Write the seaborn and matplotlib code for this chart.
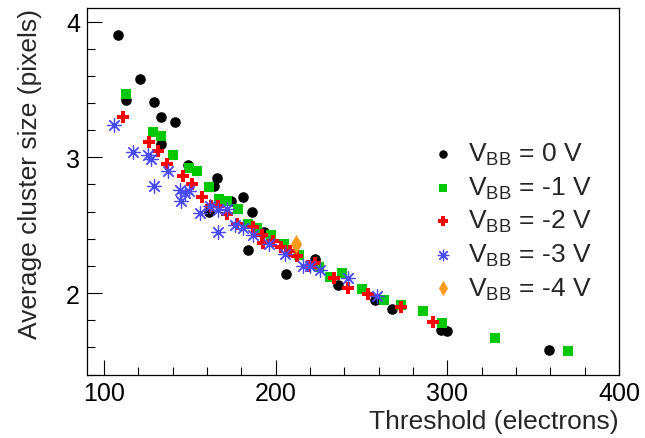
import seaborn as sns
import pandas as pd
import matplotlib.pyplot as plt
import matplotlib.ticker as mticker

#-----------------------------------------------------------------------------------------------------------------------
"""Data read off the reference chart"""
# VBB = 0 V
thr_0 = [108, 121, 113, 129, 133, 141, 133, 149, 166, 164, 174, 181, 186, 161, 193, 184,
         206, 223, 236, 258, 268, 296, 300, 359]
size_0 = [3.90, 3.58, 3.42, 3.41, 3.30, 3.26, 3.10, 2.94, 2.85, 2.79, 2.68, 2.71, 2.60, 2.60, 2.45, 2.32,
          2.14, 2.25, 2.06, 1.95, 1.88, 1.73, 1.72, 1.58]

# VBB = -1 V
thr_1 = [113, 128.5, 133, 140, 149.5, 154, 161, 167, 171.5, 178, 184, 189, 197, 205, 213.5,
         225, 231.5, 238.5, 250, 263, 273, 286, 297, 328, 370]
size_1 = [3.47, 3.19, 3.16, 3.02, 2.92, 2.90, 2.78, 2.69, 2.68, 2.62, 2.51, 2.48, 2.43, 2.36, 2.28,
          2.19, 2.12, 2.15, 2.03, 1.95, 1.91, 1.87, 1.78, 1.67, 1.57]

# VBB = -2 V
thr_2 = [111, 126, 131.5, 136.5, 146, 151, 157, 162, 166.5, 171.5, 177.5, 187, 192, 192.5, 198.5,
         203, 208, 212.5, 219, 223, 234, 242, 254, 273, 291.5]
size_2 = [3.30, 3.11, 3.05, 2.95, 2.86, 2.80, 2.71, 2.64, 2.64, 2.58, 2.51, 2.49, 2.43, 2.37, 2.38,
          2.34, 2.31, 2.27, 2.20, 2.22, 2.11, 2.04, 1.99, 1.90, 1.79]

# VBB = -3 V
thr_3 = [106, 117, 125.5, 127.5, 137, 129, 144, 147, 149.5, 145, 156, 161.5, 166.5, 171.5, 166.5,
         176, 181, 187, 196, 205.5, 216, 220, 226, 242, 259]
size_3 = [3.24, 3.04, 3.02, 2.99, 2.90, 2.79, 2.76, 2.74, 2.75, 2.68, 2.59, 2.64, 2.61, 2.62, 2.45,
          2.50, 2.48, 2.43, 2.36, 2.29, 2.20, 2.20, 2.17, 2.11, 1.98]

# VBB = -4 V
thr_4 = [212]
size_4 = [2.36]

labels = ['0', '-1', '-2', '-3', '-4']

#-----------------------------------------------------------------------------------------------------------------------
"""Building the DataFrame"""
frames = []
for lab, xs, ys in zip(labels, [thr_0, thr_1, thr_2, thr_3, thr_4], [size_0, size_1, size_2, size_3, size_4]):
    frames.append(pd.DataFrame({'threshold': xs, 'size': ys, 'vbb': lab}))
df = pd.concat(frames, ignore_index=True)

#-----------------------------------------------------------------------------------------------------------------------
"""Style"""
sns.set_style('ticks')
plt.rcParams['font.family'] = ['Liberation Sans', 'DejaVu Sans']
plt.rcParams['mathtext.fontset'] = 'custom'
plt.rcParams['mathtext.rm'] = 'Liberation Sans'

# marker, colour, size, per bias voltage
styles = {
    '0':  dict(marker='o', color='#000000', s=58),
    '-1': dict(marker='s', color='#00c800', s=55),
    '-2': dict(marker='P', color='#ff0000', s=80),
    '-3': dict(marker=(8, 2, 0), color='#4a4aff', s=90),
    '-4': dict(marker='d', color='#ff9a1a', s=95),
}

#-----------------------------------------------------------------------------------------------------------------------
"""Creating the figure"""
fig = plt.figure(figsize=(6.45, 4.39), dpi=100)
ax = fig.add_axes([0.1349, 0.1446, 0.8248, 0.8349])

for lab in labels:
    st = styles[lab]
    sub = df[df['vbb'] == lab]
    lw = 0.9 if lab == '-3' else 0
    sns.scatterplot(data=sub, x='threshold', y='size', ax=ax, marker=st['marker'], color=st['color'],
                    s=st['s'], edgecolor=st['color'], linewidth=lw,
                    label=r'$\mathregular{V_{BB}}$ = ' + lab + ' V')

#-----------------------------------------------------------------------------------------------------------------------
"""Axes"""
ax.set_xlim(90, 400)
ax.set_ylim(1.4, 4.1)
ax.xaxis.set_major_locator(mticker.MultipleLocator(100))
ax.xaxis.set_minor_locator(mticker.MultipleLocator(20))
ax.yaxis.set_major_locator(mticker.MultipleLocator(1))
ax.yaxis.set_minor_locator(mticker.MultipleLocator(0.2))
ax.tick_params(which='both', direction='in', top=False, right=False, width=0.8, labelsize=18, colors='black')
ax.tick_params(which='major', length=10.5, pad=5)
ax.tick_params(which='minor', length=5.5)
for sp in ax.spines.values():
    sp.set_visible(True)
    sp.set_linewidth(0.9)
    sp.set_color('black')

ax.set_xlabel('Threshold (electrons)', fontsize=19, loc='right')
ax.set_ylabel('Average cluster size (pixels)', fontsize=19, loc='top')
ax.xaxis.set_label_coords(1.0, -0.095)
ax.yaxis.set_label_coords(-0.085, 1.0)

#-----------------------------------------------------------------------------------------------------------------------
"""Legend"""
ax.legend(loc='upper left', bbox_to_anchor=(0.645, 0.637), frameon=False, fontsize=19, borderpad=0,
          borderaxespad=0, handlelength=1.0, handletextpad=0.45, labelspacing=0.28, markerscale=0.8)

fig.savefig('out.png', dpi=100, facecolor='white')
